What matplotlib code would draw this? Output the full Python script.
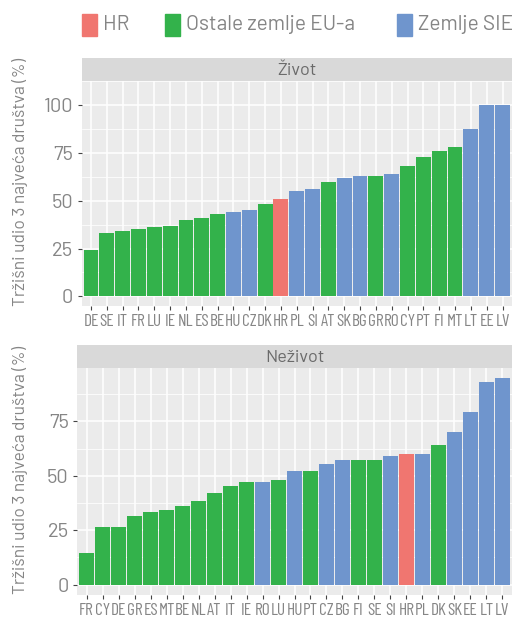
import matplotlib
matplotlib.use("Agg")
from matplotlib import pyplot as plt
from matplotlib.patches import Rectangle

plt.rcParams['font.family'] = ['Barlow', 'DejaVu Sans']

# colours for the three groups
C_HR = "#F07670"
C_EU = "#33B24B"
C_SIE = "#6F95CD"
group_colors = {"HR": C_HR, "EU": C_EU, "SIE": C_SIE}

# life insurance (Život)
life_countries = ["DE", "SE", "IT", "FR", "LU", "IE", "NL", "ES", "BE", "HU", "CZ", "DK", "HR", "PL",
                  "SI", "AT", "SK", "BG", "GR", "RO", "CY", "PT", "FI", "MT", "LT", "EE", "LV"]
life_values = [24.4, 33.1, 34.2, 35.0, 36.0, 37.0, 40.0, 41.0, 43.0, 44.0, 45.0, 48.2, 51.1, 55.0,
               56.0, 60.0, 62.0, 63.0, 63.0, 64.0, 68.0, 72.7, 76.1, 78.0, 87.3, 100.0, 100.0]
life_groups = ["EU", "EU", "EU", "EU", "EU", "EU", "EU", "EU", "EU", "SIE", "SIE", "EU", "HR", "SIE",
               "SIE", "EU", "SIE", "SIE", "EU", "SIE", "EU", "EU", "EU", "EU", "SIE", "SIE", "SIE"]

# non-life insurance (Neživot)
nonlife_countries = ["FR", "CY", "DE", "GR", "ES", "MT", "BE", "NL", "AT", "IT", "IE", "RO", "LU", "HU",
                     "PT", "CZ", "BG", "FI", "SE", "SI", "HR", "PL", "DK", "SK", "EE", "LT", "LV"]
nonlife_values = [14.4, 26.3, 26.3, 31.4, 33.2, 34.1, 35.9, 38.2, 41.9, 45.1, 47.0, 47.0, 47.9, 52.0,
                  52.0, 55.2, 57.1, 57.1, 57.1, 58.9, 59.9, 59.9, 64.0, 70.0, 79.2, 92.9, 94.8]
nonlife_groups = ["EU", "EU", "EU", "EU", "EU", "EU", "EU", "EU", "EU", "EU", "EU", "SIE", "EU", "SIE",
                  "EU", "SIE", "SIE", "EU", "EU", "SIE", "HR", "SIE", "EU", "SIE", "SIE", "SIE", "SIE"]

legend_labels = ["HR", "Ostale zemlje EU-a", "Zemlje SIE"]

W, H = 512, 618
GREY_TXT = "#858585"
YLABEL = "Tržišni udio 3 najveća društva (%)"


def px_axes(fig, left, top, right, bottom):
    return fig.add_axes([left / W, (H - bottom) / H, (right - left) / W, (bottom - top) / H])


def panel(fig, left, top, bottom, title, countries, values, groups, yticks, ylim):
    ax = px_axes(fig, left, top, 512, bottom)
    xs = list(range(len(countries)))
    ax.bar(xs, values, width=0.94, color=[group_colors[g] for g in groups], zorder=3)
    ax.set_facecolor("#EBEBEB")
    ax.set_xlim(-0.6, len(countries) - 0.4)
    ax.set_ylim(*ylim)
    ax.set_xticks(xs)
    ax.set_xticklabels(countries, family=['Barlow Condensed', 'DejaVu Sans'])
    ax.set_yticks(yticks)
    ax.set_yticks([t + 12.5 for t in yticks], minor=True)
    ax.grid(True, which="major", color="white", linewidth=1.1, zorder=0)
    ax.grid(True, which="minor", axis="y", color="white", linewidth=0.55, zorder=0)
    for s in ax.spines.values():
        s.set_visible(False)
    ax.tick_params(axis="x", colors="#444444", length=3, width=0.8, labelsize=12.5, pad=3,
                   labelcolor=GREY_TXT)
    ax.tick_params(axis="y", colors="#444444", length=3, width=0.8, labelsize=14.5, pad=3,
                   labelcolor=GREY_TXT)
    ax.tick_params(axis="y", which="minor", length=0)
    # facet strip
    strip = px_axes(fig, left, top - 23, 512, top)
    strip.set_facecolor("#D9D9D9")
    strip.set_xticks([])
    strip.set_yticks([])
    for s in strip.spines.values():
        s.set_visible(False)
    strip.text(0.5, 0.45, title, ha="center", va="center", fontsize=13, color="#6a6a6a",
               transform=strip.transAxes)
    # y label centred on strip + panel
    fig.text(20 / W, 1 - ((top - 23 + bottom) / 2) / H, YLABEL, rotation=90, ha="center",
             va="center", fontsize=12.5, color=GREY_TXT)
    return ax


fig = plt.figure(figsize=(W / 100, H / 100), dpi=100)

panel(fig, 81.5, 81, 306, "Život", life_countries, life_values, life_groups,
      [0, 25, 50, 75, 100], (-5, 105))
panel(fig, 77, 368, 595, "Neživot", nonlife_countries, nonlife_values, nonlife_groups,
      [0, 25, 50, 75], (-4.74, 99.5))

# legend drawn as keys + labels across the top
key_x = [82, 165, 397]
for x, lab, col in zip(key_x, legend_labels, [C_HR, C_EU, C_SIE]):
    fig.patches.append(Rectangle((x / W, 1 - 36 / H), 15 / W, 22 / H, color=col,
                                 transform=fig.transFigure, figure=fig))
    fig.text((x + 21) / W, 1 - 25 / H, lab, ha="left", va="center", fontsize=15,
             color=GREY_TXT)

fig.savefig("out.png", dpi=100)
